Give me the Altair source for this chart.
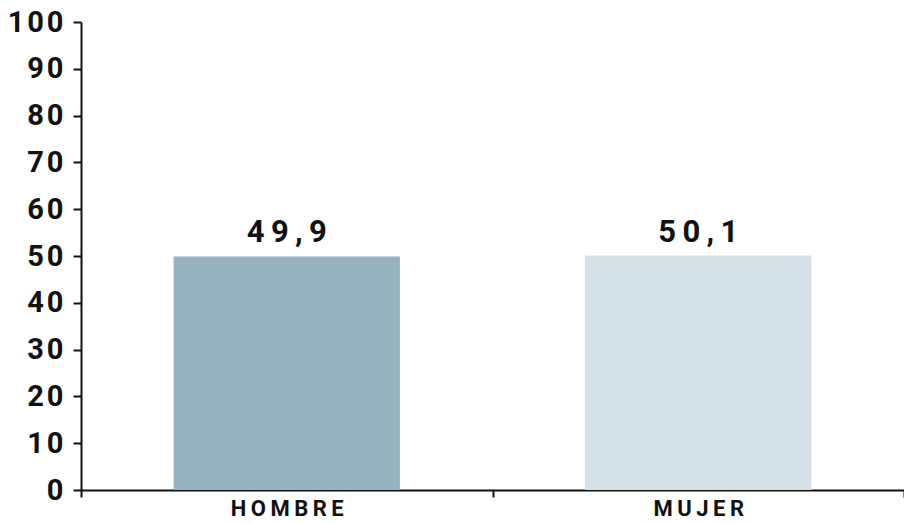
import altair as alt
import pandas as pd

# Population share by sex (%)
categories = ["HOMBRE", "MUJER"]
values = [49.9, 50.1]
labels = ["49,9", "50,1"]
colors = ["#97b2bf", "#d6e1e7"]

df = pd.DataFrame({"sexo": categories, "valor": values, "etiqueta": labels})

FONT = "Roboto"
INK = "#111111"

base = alt.Chart(df).encode(
    x=alt.X(
        "sexo:N",
        sort=categories,
        title=None,
        scale=alt.Scale(paddingInner=0, paddingOuter=0),
        axis=alt.Axis(
            labelAngle=0,
            labelFont=FONT,
            labelFontSize=22,
            labelFontWeight="bold",
            labelColor=INK,
            labelPadding=1,
            labelExpr="join(split(datum.label, ''), '\u2009')",
            domainColor=INK,
            domainWidth=2,
            tickColor=INK,
            tickWidth=2,
            tickSize=7,
            tickBand="extent",
            grid=False,
        ),
    ),
)

bars = base.mark_bar(width=alt.RelativeBandSize(0.55)).encode(
    y=alt.Y(
        "valor:Q",
        title=None,
        scale=alt.Scale(domain=[0, 100], nice=False),
        axis=alt.Axis(
            values=list(range(0, 101, 10)),
            labelFont=FONT,
            labelFontSize=29,
            labelFontWeight="bold",
            labelColor=INK,
            labelPadding=10,
            labelExpr="join(split(datum.label, ''), '\u200a')",
            domainColor=INK,
            domainWidth=2,
            tickColor=INK,
            tickWidth=2,
            tickSize=8,
            grid=False,
        ),
    ),
    color=alt.Color("sexo:N", scale=alt.Scale(domain=categories, range=colors), legend=None),
)

text = base.transform_calculate(
    spaced="join(split(datum.etiqueta, ''), '\u2009')"
).mark_text(
    font=FONT,
    fontSize=31,
    fontWeight="bold",
    color=INK,
    baseline="bottom",
    dy=-7,
).encode(
    y="valor:Q",
    text="spaced:N",
)

chart = (
    alt.layer(bars, text)
    .properties(
        width=823,
        height=468,
        background="white",
        autosize=alt.AutoSizeParams(type="none"),
        padding={"left": 81, "top": 22, "right": 0, "bottom": 33},
    )
    .configure_view(stroke=None)
)

chart.save("out.html", embed_options={"renderer": "svg", "actions": False})
